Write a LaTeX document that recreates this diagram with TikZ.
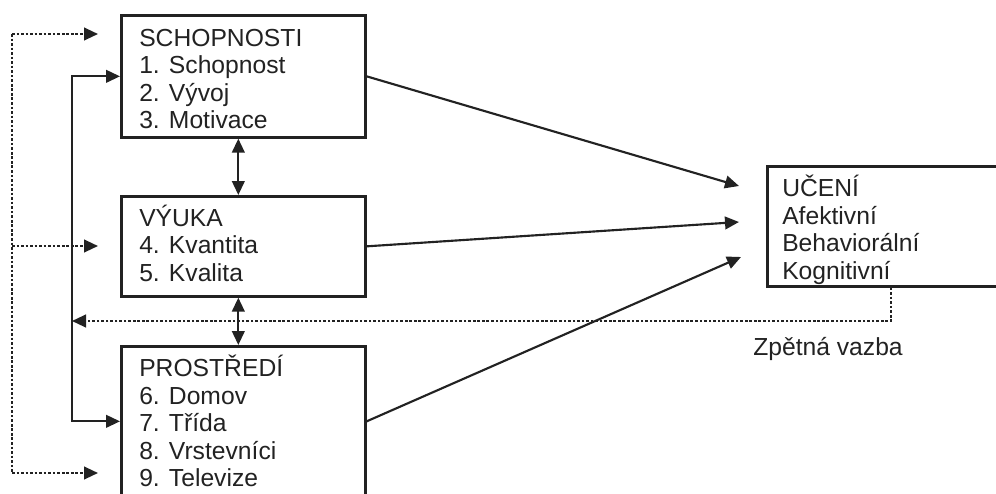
\documentclass[tikz,border=0pt]{standalone}
\usepackage{fontspec}
\setmainfont{Liberation Sans}
\usetikzlibrary{arrows.meta,calc}
\definecolor{ink}{HTML}{222222}
\begin{document}
\begin{tikzpicture}[x=0.75pt,y=-0.75pt,
  boxnode/.style={draw=ink, line width=2pt, anchor=north west, inner sep=0pt, minimum width=#1},
  lbl/.style={anchor=base west, inner sep=0pt, text=ink, font=\fontsize{18.5}{22}\selectfont},
  tip/.style={-{Triangle[length=10.5pt,width=9.5pt]}},
  conn/.style={draw=ink, line width=1.6pt},
  dots/.style={draw=ink, line width=1.6pt, dash pattern=on 2pt off 1.4pt},
  bothtip/.style={{Triangle[length=10.5pt,width=9.5pt]}-{Triangle[length=10.5pt,width=9.5pt]}}
]
\clip (0,0) rectangle (996,493);
% boxes
\node[boxnode=183pt, minimum height=91.5pt] (schop) at (120,14) {};
\node[boxnode=183pt, minimum height=75pt] (vyuka) at (120,195) {};
\node[boxnode=183pt, minimum height=112.5pt] (prost) at (120,345) {};
\node[boxnode=190pt, minimum height=90pt] (uceni) at (766,165) {};
% texts
\node[lbl] (s0) at (139,46) {SCHOPNOSTI};
\node[lbl] (s1) at (139,73.5) {1. Schopnost};
\node[lbl] (s2) at (139,101) {2. Vývoj};
\node[lbl] (s3) at (139,128.5) {3. Motivace};
\node[lbl] (v0) at (139,226) {VÝUKA};
\node[lbl] (v1) at (139,253.5) {4. Kvantita};
\node[lbl] (v2) at (139,281) {5. Kvalita};
\node[lbl] (p0) at (139,376) {PROSTŘEDÍ};
\node[lbl] (p1) at (139,404) {6. Domov};
\node[lbl] (p2) at (139,431.5) {7. Třída};
\node[lbl] (p3) at (139,459) {8. Vrstevníci};
\node[lbl] (p4) at (139,486.5) {9. Televize};
\node[lbl] (u0) at (782,196) {UČENÍ};
\node[lbl] (u1) at (782,224) {Afektivní};
\node[lbl] (u2) at (782,251.5) {Behaviorální};
\node[lbl] (u3) at (782,279) {Kognitivní};
\node[lbl] (zv) at (753,355) {Zpětná vazba};
% coordinates
\coordinate (t1) at (739,186);
\coordinate (t2) at (739,222);
\coordinate (t3) at (741,257);
\coordinate (sl) at (72,0);
\coordinate (dl) at (12,0);
\coordinate (d1) at (98,34);
\coordinate (d2) at (98,246);
\coordinate (d3) at (98,473);
\coordinate (fb) at (891,321);
% diagonal arrows
\draw[conn,tip] (schop.east) -- (t1);
\draw[conn,tip] (vyuka.east) -- (t2);
\draw[conn,tip] (prost.east) -- (t3);
% vertical double arrows
\draw[conn,bothtip] ($(schop.south)+(-5,0)$) -- ($(vyuka.north)+(-5,0)$);
\draw[conn,bothtip] ($(vyuka.south)+(-5,0)$) -- ($(prost.north)+(-5,0)$);
% solid left bracket
\draw[conn,bothtip] (schop.west) -- (schop.west -| sl) -- (prost.west -| sl) -- (prost.west);
% dotted left line
\draw[dots] (d1 -| dl) -- (d3 -| dl);
\draw[dots,tip] (d1 -| dl) -- (d1);
\draw[dots,tip] (d2 -| dl) -- (d2);
\draw[dots,tip] (d3 -| dl) -- (d3);
% feedback
\draw[dots,tip] (uceni.south -| fb) -- (fb) -- (fb -| sl);
\end{tikzpicture}
\end{document}
